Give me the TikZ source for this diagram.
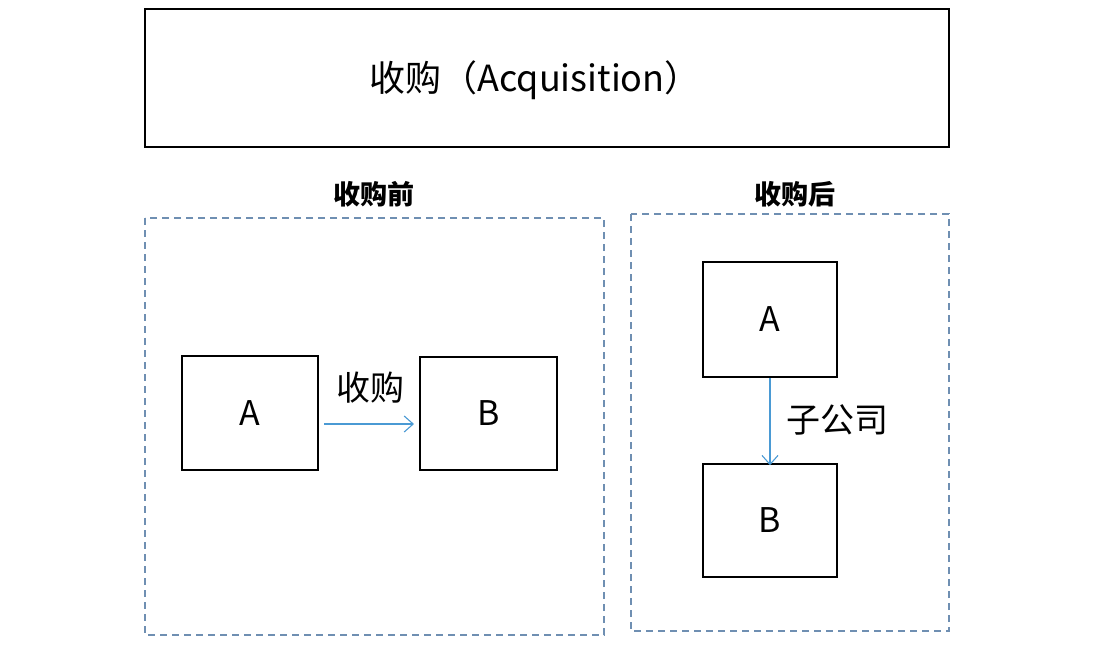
\documentclass[tikz,border=0pt]{standalone}
\usepackage{fontspec}
\setmainfont{Noto Sans CJK SC}
\usetikzlibrary{arrows.meta}
\definecolor{dashblue}{HTML}{6F8FB2}
\definecolor{arrowblue}{HTML}{4A9AD4}
\tikzset{
  dashbox/.style={draw=dashblue, line width=1.2pt, dash pattern=on 7pt off 5pt},
  conn/.style={draw=arrowblue, line width=1.1pt, -{Straight Barb[length=9pt,width=16pt,line width=1.1pt]}},
  lbl/.style={font=\fontsize{34}{40}\selectfont, inner sep=0pt},
  titlefont/.style={font=\fontsize{36}{42}\selectfont, inner sep=0pt},
  head/.style={font=\fontsize{27}{32}\selectfont\bfseries, inner sep=0pt},
}
\begin{document}
\begin{tikzpicture}[x=1pt,y=-1pt]
\useasboundingbox (0,0) rectangle (1096,646);
\fill[white] (0,0) rectangle (1096,646);
% title box
\node[draw=black, line width=1.6pt, minimum width=804pt, minimum height=138pt, inner sep=0pt] (title) at (547,78) {};
\node[titlefont] (titletext) at (535,80) {收购（Acquisition）};
% dashed groups
\draw[dashbox] (145,218) rectangle (604,635);
\draw[dashbox] (631,214) rectangle (949,631);
\node[head] (before) at (374,194) {收购前};
\node[head] (after) at (795,194) {收购后};
% before
\node[draw=black, line width=1.5pt, minimum width=136pt, minimum height=114pt, inner sep=0pt, lbl] (A1) at (250,413) {A};
\node[draw=black, line width=1.5pt, minimum width=137pt, minimum height=113pt, inner sep=0pt, lbl] (B1) at (488.5,413.5) {B};
\coordinate (s1) at (324,424);
\coordinate (e1) at (414,424);
\draw[conn] (s1) -- (e1);
\node[lbl] (acq) at (370,388) {收购};
% after
\node[draw=black, line width=1.5pt, minimum width=134pt, minimum height=115pt, inner sep=0pt, lbl] (A2) at (770,319.5) {A};
\node[draw=black, line width=1.5pt, minimum width=134pt, minimum height=113pt, inner sep=0pt, lbl] (B2) at (770,520.5) {B};
\draw[conn] (A2.south) -- ([yshift=-2pt]B2.north);
\node[lbl, anchor=west] (sub) at (786,420) {子公司};
\end{tikzpicture}
\end{document}
